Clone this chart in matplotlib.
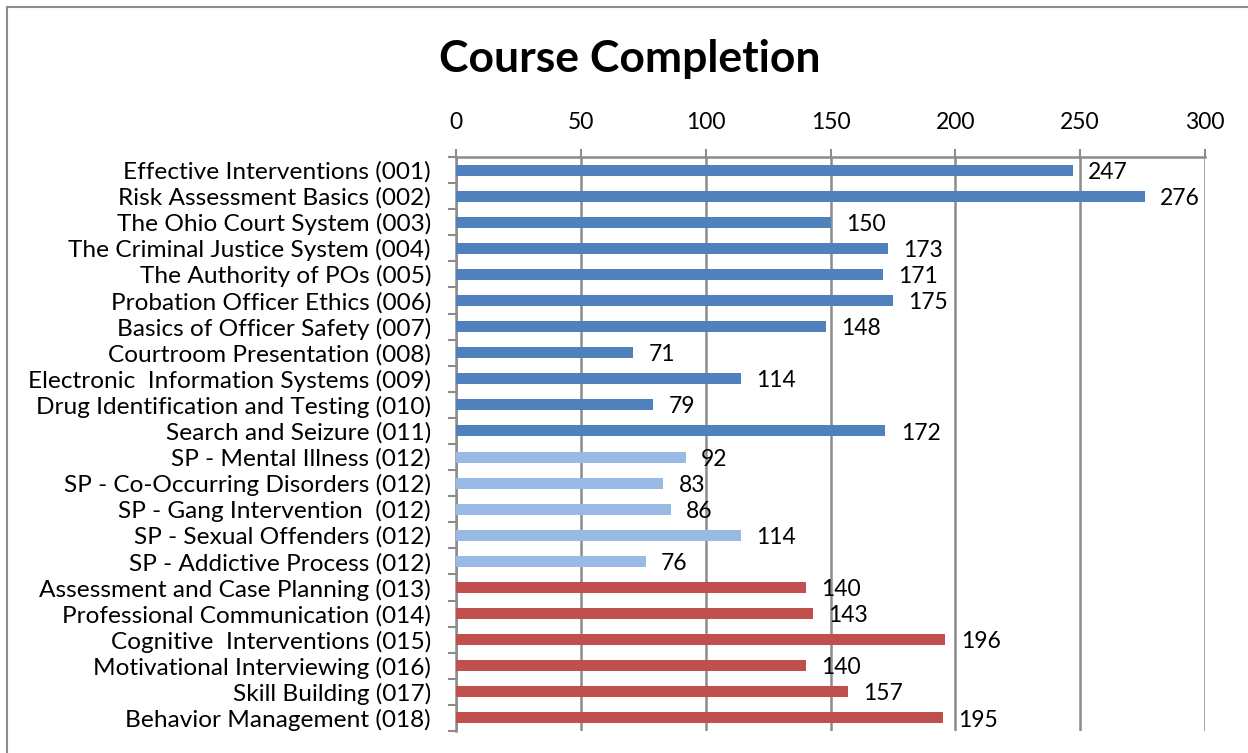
import matplotlib
matplotlib.use("Agg")
import matplotlib.pyplot as plt
from matplotlib.patches import Rectangle
from matplotlib.ticker import FixedLocator

plt.rcParams['font.family'] = ['Lato', 'DejaVu Sans']

title = "Course Completion"
courses = [
    "Effective Interventions (001)",
    "Risk Assessment Basics (002)",
    "The Ohio Court System (003)",
    "The Criminal Justice System (004)",
    "The Authority of POs (005)",
    "Probation Officer Ethics (006)",
    "Basics of Officer Safety (007)",
    "Courtroom Presentation (008)",
    "Electronic  Information Systems (009)",
    "Drug Identification and Testing (010)",
    "Search and Seizure (011)",
    "SP - Mental Illness (012)",
    "SP - Co-Occurring Disorders (012)",
    "SP - Gang Intervention  (012)",
    "SP - Sexual Offenders (012)",
    "SP - Addictive Process (012)",
    "Assessment and Case Planning (013)",
    "Professional Communication (014)",
    "Cognitive  Interventions (015)",
    "Motivational Interviewing (016)",
    "Skill Building (017)",
    "Behavior Management (018)",
]
completions = [247, 276, 150, 173, 171, 175, 148, 71, 114, 79, 172,
               92, 83, 86, 114, 76,
               140, 143, 196, 140, 157, 195]
groups = ["core"] * 11 + ["sp"] * 5 + ["adv"] * 6
group_colors = {"core": "#4F81BD", "sp": "#99BAE5", "adv": "#C0504D"}
x_ticks = [0, 50, 100, 150, 200, 250, 300]

W, H = 1248, 753
fig = plt.figure(figsize=(W / 100, H / 100), dpi=100)

# outer chart frame
fig.patches.append(Rectangle((7 / W, -0.05), 1.2, 1 - 7 / H + 0.05,
                             transform=fig.transFigure, fill=False,
                             edgecolor="#8C8C8C", linewidth=1.5))

ax = fig.add_axes([456 / W, 1 - 731 / H, (1205 - 456) / W, (731 - 157) / H])

n = len(courses)
ypos = list(range(n))
colors = [group_colors[g] for g in groups]
ax.barh(ypos, completions, height=0.42, color=colors, zorder=3)

for y, v in zip(ypos, completions):
    ax.annotate(str(v), xy=(v, y), xytext=(11, -1.5), textcoords="offset points",
                ha="left", va="center", fontsize=16.5, color="black", zorder=4)

ax.set_xlim(0, 300)
ax.set_ylim(n - 0.5, -0.5)
ax.xaxis.set_major_locator(FixedLocator(x_ticks))
ax.xaxis.tick_top()
ax.tick_params(axis="x", which="major", top=True, bottom=False, length=6,
               width=1.5, color="#8C8C8C", pad=11, labelsize=16.5)
ax.set_yticks(ypos)
ax.set_yticklabels(courses)
ax.yaxis.set_minor_locator(FixedLocator([i - 0.5 for i in range(n + 1)]))
ax.tick_params(axis="y", which="major", length=0, pad=18, labelsize=17.6)
ax.tick_params(axis="y", which="minor", length=6, width=1.5, color="#8C8C8C")

ax.grid(axis="x", color="#8C8C8C", linewidth=1.8, zorder=1)
ax.set_axisbelow(True)
for s in ["right", "bottom"]:
    ax.spines[s].set_visible(False)
for s in ["top", "left"]:
    ax.spines[s].set_color("#8C8C8C")
    ax.spines[s].set_linewidth(1.8)

fig.text(630 / W, 1 - 59 / H, title, ha="center", va="center",
         fontsize=32, fontweight="bold")

fig.savefig("out.png", dpi=100)
